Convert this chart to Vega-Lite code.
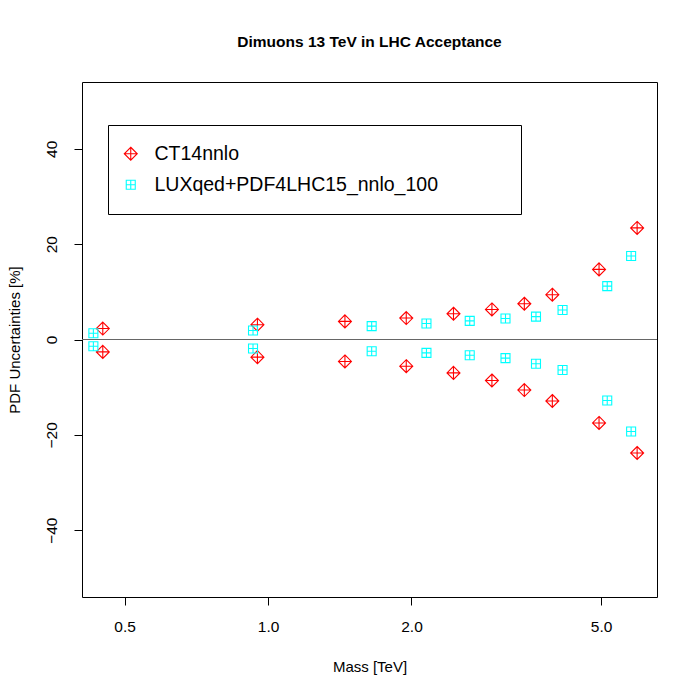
{
  "$schema": "https://vega.github.io/schema/vega-lite/v6.json",
  "width": 575,
  "height": 515,
  "autosize": {"type": "none"},
  "padding": {"left": 82, "top": 82, "right": 43, "bottom": 103},
  "background": "white",
  "config": {
    "font": "Liberation Sans",
    "view": {"stroke": "black", "strokeWidth": 1},
    "axis": {"grid": false, "domain": false, "tickColor": "black", "labelColor": "black", "titleColor": "black", "titleFontWeight": "normal"}
  },
  "title": {
    "text": "Dimuons 13 TeV in LHC Acceptance",
    "fontSize": 15.5,
    "fontWeight": "bold",
    "anchor": "middle",
    "offset": 32,
    "color": "black",
    "font": "Liberation Sans"
  },
  "data": {
    "values": [
      {"series": "CT14nnlo", "mass": 0.45, "unc": 2.3},
      {"series": "CT14nnlo", "mass": 0.45, "unc": -2.6},
      {"series": "CT14nnlo", "mass": 0.95, "unc": 3.1},
      {"series": "CT14nnlo", "mass": 0.95, "unc": -3.7},
      {"series": "CT14nnlo", "mass": 1.45, "unc": 3.8},
      {"series": "CT14nnlo", "mass": 1.45, "unc": -4.6},
      {"series": "CT14nnlo", "mass": 1.95, "unc": 4.5},
      {"series": "CT14nnlo", "mass": 1.95, "unc": -5.6},
      {"series": "CT14nnlo", "mass": 2.45, "unc": 5.4},
      {"series": "CT14nnlo", "mass": 2.45, "unc": -7.0},
      {"series": "CT14nnlo", "mass": 2.95, "unc": 6.3},
      {"series": "CT14nnlo", "mass": 2.95, "unc": -8.6},
      {"series": "CT14nnlo", "mass": 3.45, "unc": 7.5},
      {"series": "CT14nnlo", "mass": 3.45, "unc": -10.6},
      {"series": "CT14nnlo", "mass": 3.95, "unc": 9.4},
      {"series": "CT14nnlo", "mass": 3.95, "unc": -12.9},
      {"series": "CT14nnlo", "mass": 4.95, "unc": 14.7},
      {"series": "CT14nnlo", "mass": 4.95, "unc": -17.5},
      {"series": "CT14nnlo", "mass": 5.95, "unc": 23.4},
      {"series": "CT14nnlo", "mass": 5.95, "unc": -23.8},
      {"series": "LUXqed+PDF4LHC15_nnlo_100", "mass": 0.43, "unc": 1.3},
      {"series": "LUXqed+PDF4LHC15_nnlo_100", "mass": 0.43, "unc": -1.4},
      {"series": "LUXqed+PDF4LHC15_nnlo_100", "mass": 0.93, "unc": 1.9},
      {"series": "LUXqed+PDF4LHC15_nnlo_100", "mass": 0.93, "unc": -1.9},
      {"series": "LUXqed+PDF4LHC15_nnlo_100", "mass": 1.65, "unc": 2.8},
      {"series": "LUXqed+PDF4LHC15_nnlo_100", "mass": 1.65, "unc": -2.45},
      {"series": "LUXqed+PDF4LHC15_nnlo_100", "mass": 2.15, "unc": 3.35},
      {"series": "LUXqed+PDF4LHC15_nnlo_100", "mass": 2.15, "unc": -2.8},
      {"series": "LUXqed+PDF4LHC15_nnlo_100", "mass": 2.65, "unc": 3.9},
      {"series": "LUXqed+PDF4LHC15_nnlo_100", "mass": 2.65, "unc": -3.3},
      {"series": "LUXqed+PDF4LHC15_nnlo_100", "mass": 3.15, "unc": 4.4},
      {"series": "LUXqed+PDF4LHC15_nnlo_100", "mass": 3.15, "unc": -3.9},
      {"series": "LUXqed+PDF4LHC15_nnlo_100", "mass": 3.65, "unc": 4.8},
      {"series": "LUXqed+PDF4LHC15_nnlo_100", "mass": 3.65, "unc": -5.1},
      {"series": "LUXqed+PDF4LHC15_nnlo_100", "mass": 4.15, "unc": 6.2},
      {"series": "LUXqed+PDF4LHC15_nnlo_100", "mass": 4.15, "unc": -6.4},
      {"series": "LUXqed+PDF4LHC15_nnlo_100", "mass": 5.15, "unc": 11.2},
      {"series": "LUXqed+PDF4LHC15_nnlo_100", "mass": 5.15, "unc": -12.8},
      {"series": "LUXqed+PDF4LHC15_nnlo_100", "mass": 5.78, "unc": 17.5},
      {"series": "LUXqed+PDF4LHC15_nnlo_100", "mass": 5.78, "unc": -19.3}
    ]
  },
  "layer": [
    {
      "mark": {"type": "rule", "color": "#666666", "strokeWidth": 1.2},
      "encoding": {"y": {"datum": 0, "type": "quantitative"}}
    },
    {
      "mark": {"type": "point", "filled": false, "strokeWidth": 1.1, "opacity": 1},
      "encoding": {
        "x": {
          "field": "mass", "type": "quantitative",
          "scale": {"type": "log", "domain": [0.407, 6.55], "nice": false},
          "axis": {"values": [0.5, 1, 2, 5], "format": ".1f", "title": "Mass [TeV]", "labelFontSize": 15.5, "titleFontSize": 15, "tickSize": 8, "labelPadding": 14, "titlePadding": 25, "labelFlush": false}
        },
        "y": {
          "field": "unc", "type": "quantitative",
          "scale": {"domain": [-54, 54], "nice": false, "zero": false},
          "axis": {"values": [-40, -20, 0, 20, 40], "title": "PDF Uncertainties [%]", "labelAngle": 270, "labelAlign": "center", "labelBaseline": "bottom", "labelFontSize": 15.5, "titleFontSize": 15, "tickSize": 8, "labelPadding": 15, "titlePadding": 22, "labelFlush": false}
        },
        "color": {
          "field": "series", "type": "nominal",
          "scale": {"domain": ["CT14nnlo", "LUXqed+PDF4LHC15_nnlo_100"], "range": ["#FF0000", "#00FFFF"]},
          "legend": {
            "title": " ",
            "titleOrient": "right",
            "titlePadding": 64,
            "orient": "none",
            "legendX": 26,
            "legendY": 43,
            "padding": 19,
            "strokeColor": "black",
            "fillColor": "white",
            "labelFontSize": 19.5,
            "labelColor": "black",
            "labelLimit": 600,
            "labelOffset": 14,
            "rowPadding": 10,
            "symbolOffset": -6,
            "symbolStrokeWidth": 1.1
          }
        },
        "shape": {
          "field": "series", "type": "nominal",
          "scale": {"domain": ["CT14nnlo", "LUXqed+PDF4LHC15_nnlo_100"], "range": ["M0,-1L1,0L0,1L-1,0Z M-1,0L1,0 M0,-1L0,1", "M-1,-1L1,-1L1,1L-1,1Z M-1,0L1,0 M0,-1L0,1"]}
        },
        "size": {
          "field": "series", "type": "nominal",
          "scale": {"domain": ["CT14nnlo", "LUXqed+PDF4LHC15_nnlo_100"], "range": [169, 81]}
        }
      }
    }
  ]
}
